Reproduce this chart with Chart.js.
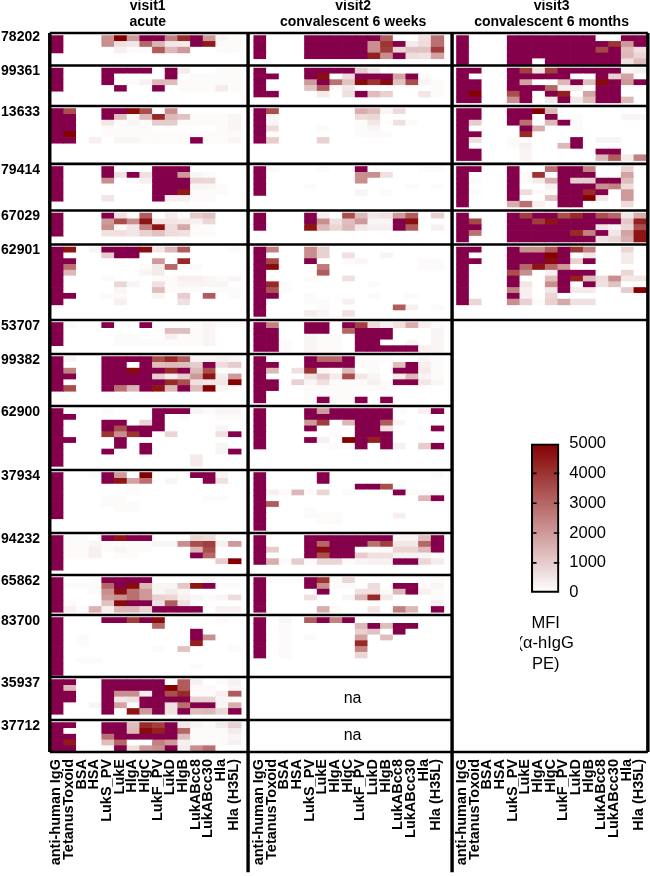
<!DOCTYPE html>
<html>
<head>
<meta charset="utf-8">
<title>MFI heatmap</title>
<script src="https://cdn.jsdelivr.net/npm/chart.js@4"></script>
<style>
    html, body { margin: 0; padding: 0; background: #fff; }
    #wrap { position: relative; width: 650px; height: 876px; overflow: hidden; }
    #wrap canvas { position: absolute; }
</style>
</head>
<body>
<div id="wrap">
    <canvas id="heat" width="650" height="876" style="left:0;top:0"></canvas>
    <canvas id="scale" width="130" height="250" style="left:520px;top:425px"></canvas>
</div>
<script>
const antigens = ['anti-human IgG', 'TetanusToxoid', 'BSA', 'HSA', 'LukS_PV', 'LukE', 'HlgA', 'HlgC', 'LukF_PV', 'LukD', 'HlgB', 'LukABcc8', 'LukABcc30', 'Hla', 'Hla (H35L)'];
const patients = ['78202', '99361', '13633', '79414', '67029', '62901', '53707', '99382', '62900', '37934', '94232', '65862', '83700', '35937', '37712'];
const visitTitles = [['visit1', 'acute'], ['visit2', 'convalescent 6 weeks'], ['visit3', 'convalescent 6 months']];
const scaleTicks = [0, 1000, 2000, 3000, 4000, 5000];
const scaleCaption = ['MFI', '(α-hIgG', 'PE)'];

// MFI in hundreds, 99 = above the top of the colour scale
const v1_78202 = [
    [99,0,0,0,22,50,20,99,99,25,42,99,20,2,1],
    [99,0,0,0,22,6,5,30,15,5,4,99,45,1,1],
    [99,0,0,0,0,3,1,1,32,14,20,0,0,1,1]];
const v1_99361 = [
    [99,0,0,0,99,99,99,99,0,99,4,0,0,1,1],
    [99,0,0,0,99,0,0,0,0,99,0,1,1,1,1],
    [99,0,0,0,99,0,1,3,14,13,1,1,1,1,1],
    [99,0,0,0,0,99,0,0,99,0,1,1,1,4,1]];
const v1_13633 = [
    [99,35,0,0,99,99,48,35,0,22,0,0,0,0,0],
    [99,99,0,0,99,13,2,14,42,14,12,1,1,1,2],
    [99,99,0,0,5,1,2,1,10,10,1,1,1,1,2],
    [99,99,0,0,1,1,1,1,0,0,0,0,0,1,2],
    [99,50,0,0,1,1,1,1,1,1,1,1,1,1,1],
    [99,99,0,3,0,2,2,1,1,1,1,99,1,1,2]];
const v1_79414 = [
    [99,0,0,0,99,0,0,0,99,99,99,0,0,0,0],
    [99,0,0,0,99,6,99,6,99,99,20,2,1,0,0],
    [99,0,0,0,22,0,1,3,99,99,99,8,8,0,0],
    [99,0,0,0,0,0,0,0,99,99,99,2,2,1,0],
    [99,0,0,0,0,0,0,0,99,99,45,1,1,1,0],
    [99,0,0,0,5,0,0,0,99,3,3,1,1,0,0]];
const v1_67029 = [
    [99,0,0,0,99,6,1,32,0,4,1,10,12,0,0],
    [99,0,0,0,20,35,22,46,5,5,4,3,8,0,0],
    [99,0,0,0,22,1,5,25,46,7,17,1,1,0,0],
    [99,0,0,0,6,6,5,9,12,7,6,1,1,0,0]];
const v1_62901 = [
    [99,46,0,2,99,99,99,47,5,14,32,0,0,0,1],
    [99,0,0,0,10,99,99,0,0,0,0,0,0,0,0],
    [99,99,0,0,0,0,0,0,20,0,42,0,0,0,0],
    [99,28,0,0,0,0,0,1,4,30,1,1,0,0,0],
    [99,14,0,0,0,0,0,2,4,0,0,0,0,0,0],
    [99,0,0,0,1,0,0,0,1,1,3,3,2,1,2],
    [99,0,0,0,0,8,2,0,6,1,2,2,2,2,0],
    [99,0,0,0,0,2,0,0,13,1,1,1,0,1,1],
    [99,99,0,0,1,1,0,0,2,0,10,0,32,0,1],
    [99,0,0,0,0,3,0,0,0,0,6,0,0,0,0]];
const v1_53707 = [
    [99,1,0,0,99,0,0,99,0,0,0,1,2,1,1],
    [99,0,0,0,0,0,0,0,0,13,13,1,2,0,0],
    [99,0,0,0,0,1,1,0,0,3,1,1,2,0,0],
    [99,0,0,0,0,1,1,1,1,1,1,1,2,0,0]];
const v1_99382 = [
    [99,2,0,0,99,99,99,99,35,42,32,2,2,3,2],
    [99,0,0,0,99,99,0,99,13,14,13,10,99,7,10],
    [99,25,0,0,99,99,48,99,99,42,99,14,35,1,1],
    [99,99,0,0,99,99,99,99,10,4,10,20,46,4,20],
    [99,0,0,0,99,99,99,99,99,42,35,6,5,5,50],
    [99,35,0,0,99,28,15,99,46,14,99,13,50,2,1]];
const v1_62900 = [
    [99,0,0,0,1,0,0,0,99,99,99,2,1,2,2],
    [99,99,0,0,0,0,0,0,99,0,1,0,0,1,1],
    [99,0,0,0,99,99,0,8,99,0,0,0,0,0,0],
    [99,0,0,0,99,35,99,99,99,0,0,0,0,2,0],
    [99,0,0,0,40,22,40,99,0,8,0,0,0,6,99],
    [99,99,0,0,0,99,0,0,0,0,0,0,0,0,0],
    [99,0,0,0,0,99,0,99,0,0,0,0,0,2,0],
    [99,0,0,0,99,0,0,99,0,0,0,0,0,2,99],
    [99,0,0,0,0,0,0,0,0,0,0,4,0,0,0],
    [99,0,0,0,0,0,0,0,0,0,0,4,0,0,0]];
const v1_37934 = [
    [99,0,0,1,99,20,0,50,0,0,0,99,99,2,0],
    [99,0,0,0,99,46,18,28,0,2,0,0,99,6,0],
    [99,0,0,0,0,0,1,0,0,0,0,0,0,0,0],
    [99,0,0,0,0,0,1,0,0,0,0,0,0,0,0],
    [99,0,0,0,1,1,0,0,0,0,0,0,1,1,0],
    [99,0,0,0,1,1,1,0,0,0,0,0,0,0,0],
    [99,0,0,0,0,1,1,0,0,0,0,0,0,0,0],
    [99,0,0,0,0,0,0,0,0,0,0,0,0,0,0]];
const v1_94232 = [
    [99,1,1,0,99,46,99,99,0,0,0,8,7,1,0],
    [99,1,1,2,1,1,1,1,2,2,22,35,38,3,20],
    [99,1,1,3,1,2,1,1,0,0,0,15,35,0,0],
    [99,1,1,3,0,1,1,0,0,0,0,99,30,0,0],
    [99,0,0,0,0,0,0,0,0,0,0,0,0,10,50],
    [99,0,0,0,0,0,0,0,0,0,0,0,0,0,0]];
const v1_65862 = [
    [99,0,0,1,99,99,99,99,0,0,0,1,2,0,0],
    [99,1,1,1,30,99,48,14,2,2,11,46,99,1,1],
    [99,0,0,1,22,47,28,20,2,4,2,0,0,0,0],
    [99,0,0,0,20,22,28,20,9,8,3,2,1,2,7],
    [99,1,0,0,12,48,99,99,6,32,6,0,0,0,0],
    [99,3,1,15,3,14,14,8,99,99,99,99,0,3,3]];
const v1_83700 = [
    [99,0,0,0,99,99,38,99,48,0,0,0,0,1,0],
    [99,0,0,0,0,0,0,0,30,0,0,0,0,0,0],
    [99,0,0,0,0,0,0,0,0,0,0,99,0,0,0],
    [99,0,1,0,0,0,0,0,0,0,0,99,22,0,0],
    [99,0,1,0,0,0,0,0,0,0,0,44,0,0,0],
    [99,0,0,0,0,0,0,0,1,0,12,0,0,0,1],
    [99,0,0,0,0,0,0,0,0,0,0,0,0,0,0],
    [99,0,1,1,0,0,0,0,0,0,0,0,0,0,0],
    [99,0,0,0,0,0,0,0,0,0,0,1,0,0,0],
    [99,0,0,0,0,0,0,0,0,0,0,0,0,0,0]];
const v1_35937 = [
    [99,99,0,0,99,99,99,99,99,0,32,3,0,1,3],
    [99,14,0,0,99,99,99,99,99,50,32,1,1,0,2],
    [99,99,0,0,99,22,22,4,99,35,42,1,1,3,32],
    [99,99,0,0,99,5,6,99,99,99,99,9,9,2,1],
    [99,0,0,2,99,18,1,99,99,6,28,99,99,2,16],
    [99,0,0,0,99,0,46,20,99,6,99,13,14,8,99]];
const v1_37712 = [
    [99,99,0,0,99,99,13,42,38,99,5,2,1,4,9],
    [99,0,0,0,99,99,14,48,44,99,30,1,1,1,4],
    [99,99,0,0,28,99,99,99,99,99,13,1,1,1,2],
    [99,45,0,0,13,30,0,0,25,20,3,1,1,1,3],
    [99,99,0,0,1,99,6,20,22,99,4,22,28,0,0]];

const v2_78202 = [
    [99,0,0,0,99,99,99,99,99,99,32,0,0,6,28],
    [99,0,0,0,99,99,99,99,99,22,40,99,4,7,28],
    [99,0,0,0,99,99,99,99,99,22,38,8,12,12,38],
    [99,0,0,0,99,99,99,99,99,44,22,99,7,6,18]];
const v2_99361 = [
    [99,0,0,0,99,99,99,99,10,5,0,0,0,0,0],
    [99,99,0,0,99,47,0,7,99,99,99,18,99,1,0],
    [99,0,0,0,20,99,28,12,48,40,48,12,35,2,1],
    [99,0,0,0,12,32,1,5,0,0,0,0,0,0,1],
    [99,99,0,0,0,4,0,6,99,13,9,0,0,5,1]];
const v2_13633 = [
    [99,35,0,0,0,0,0,0,16,13,2,7,0,0,0],
    [99,2,0,0,0,0,0,0,7,8,0,0,0,0,0],
    [99,2,0,0,0,0,0,0,1,5,0,6,1,0,0],
    [99,7,0,0,0,1,0,0,1,2,0,0,0,0,0],
    [99,1,0,0,0,0,0,0,1,1,1,0,0,0,0],
    [99,10,0,0,0,9,0,0,0,0,0,0,0,0,0]];
const v2_79414 = [
    [99,1,0,0,0,1,0,0,99,0,0,0,0,1,1],
    [99,0,0,0,0,0,0,0,22,22,6,0,0,0,0],
    [99,0,0,0,0,0,0,0,22,0,0,0,0,0,0],
    [99,0,0,0,1,0,0,0,0,0,0,0,1,0,1],
    [99,0,0,0,0,0,0,0,2,0,1,0,0,0,0]];
const v2_67029 = [
    [99,0,0,0,99,3,0,35,14,5,6,20,32,0,9],
    [99,0,0,0,99,22,6,13,20,2,2,99,47,0,0],
    [99,0,0,0,46,14,8,14,5,3,3,99,32,0,3]];
const v2_62901 = [
    [99,25,0,0,22,9,0,0,0,0,0,0,0,0,0],
    [99,0,0,0,22,9,0,6,0,0,2,0,0,0,0],
    [99,36,0,0,99,0,0,1,2,0,0,0,0,1,1],
    [99,48,0,0,0,26,0,0,0,0,0,0,0,1,1],
    [99,0,0,0,0,32,0,0,0,0,0,0,0,0,0],
    [99,0,0,0,1,0,0,6,0,0,0,0,0,0,0],
    [99,42,1,0,0,0,0,0,0,1,0,0,0,0,0],
    [99,34,1,0,0,0,0,0,0,0,0,0,0,0,0],
    [99,99,0,0,1,0,0,0,0,1,0,0,1,0,0],
    [99,0,0,0,1,1,0,3,0,0,0,0,0,0,0],
    [99,0,0,0,0,1,0,0,0,0,0,32,3,0,1],
    [99,0,0,0,4,2,0,6,0,0,0,0,0,0,0]];
const v2_53707 = [
    [99,25,0,0,99,99,0,99,38,7,3,6,16,3,1],
    [99,99,0,0,99,99,0,30,99,99,99,0,0,0,2],
    [99,99,0,0,2,1,1,0,99,99,99,0,0,0,2],
    [99,99,1,0,2,1,1,0,99,99,0,0,2,0,2],
    [99,99,1,0,2,1,1,0,99,99,99,99,99,3,2]];
const v2_99382 = [
    [99,0,0,0,99,30,30,99,1,1,1,0,0,2,1],
    [99,99,0,0,99,99,99,99,1,1,0,13,99,3,1],
    [99,14,0,6,40,2,1,14,0,1,0,99,99,4,1],
    [99,0,0,0,6,11,4,35,5,2,0,4,14,2,1],
    [99,99,0,9,2,6,1,1,1,3,1,99,99,5,2],
    [99,99,0,0,1,1,1,1,1,1,1,0,0,0,0],
    [99,0,0,0,1,1,1,1,0,0,0,0,0,0,0],
    [99,0,0,0,1,99,1,1,99,0,99,0,0,0,0]];
const v2_62900 = [
    [99,0,0,0,99,20,99,99,99,99,99,1,0,3,99],
    [99,0,0,0,99,99,99,99,99,99,99,0,0,0,0],
    [99,0,0,0,20,38,0,14,99,99,32,2,0,0,0],
    [99,0,0,0,99,0,0,0,99,99,6,0,0,1,99],
    [99,0,0,0,0,0,1,0,99,99,99,0,0,0,0],
    [99,0,0,0,99,3,0,50,99,44,99,0,0,0,0],
    [99,0,0,0,0,0,1,1,99,0,99,3,0,10,99]];
const v2_37934 = [
    [99,0,0,0,0,99,0,0,0,0,0,0,0,0,1],
    [99,0,0,0,0,99,0,0,0,0,0,0,0,0,0],
    [99,0,0,0,0,0,0,0,99,99,35,1,0,0,0],
    [99,3,1,14,1,8,0,1,0,0,0,99,1,1,1],
    [99,0,0,0,0,0,0,0,0,0,0,0,0,14,99],
    [99,32,0,0,0,0,0,0,0,0,0,0,0,0,0],
    [99,0,0,0,1,0,0,0,0,0,0,0,0,0,0],
    [99,0,0,0,1,1,1,0,0,0,0,3,0,0,0],
    [99,0,0,0,0,1,1,0,0,0,0,0,0,0,0],
    [99,0,0,0,0,0,0,0,0,0,0,0,0,0,0]];
const v2_94232 = [
    [99,0,0,0,99,99,99,99,99,99,99,2,2,13,99],
    [99,0,0,0,99,30,99,99,99,28,38,5,5,30,99],
    [99,10,0,0,99,48,99,99,0,1,1,8,8,14,99],
    [99,0,0,0,99,35,99,99,10,6,6,3,3,2,1],
    [99,16,1,10,1,8,8,1,2,3,3,99,99,8,4]];
const v2_65862 = [
    [99,1,1,1,99,40,1,8,0,0,0,0,0,0,1],
    [99,0,0,0,99,22,1,1,0,7,0,99,99,1,2],
    [99,0,0,0,0,99,0,0,6,6,1,14,99,3,1],
    [99,0,0,0,6,0,0,2,14,42,4,0,0,0,1],
    [99,0,0,0,0,0,0,0,0,0,0,0,0,0,3],
    [99,0,0,0,0,16,1,0,0,5,0,25,14,0,99]];
const v2_83700 = [
    [99,0,2,0,32,99,25,99,0,0,0,0,0,0,0],
    [99,0,1,0,0,0,0,0,14,99,13,99,99,0,0],
    [99,0,1,0,0,0,0,0,9,12,0,99,0,0,0],
    [99,0,1,0,1,0,0,0,18,0,13,0,0,0,0],
    [99,0,1,0,0,0,0,0,42,0,0,0,0,0,0],
    [99,0,1,0,0,0,0,0,24,0,0,0,0,0,0],
    [99,0,1,0,0,0,0,0,8,0,0,0,0,0,0]];

const v3_78202 = [
    [99,0,0,0,99,99,99,99,99,99,99,0,0,99,99],
    [99,0,0,0,99,99,99,99,99,99,99,99,40,20,99],
    [99,0,0,0,99,99,99,99,99,99,99,36,99,13,6],
    [99,0,0,0,99,99,99,99,99,99,99,99,99,14,8],
    [99,0,0,0,99,99,0,99,99,99,99,99,99,6,13]];
const v3_99361 = [
    [99,99,0,0,99,38,6,38,99,99,99,99,99,2,3],
    [99,0,0,0,99,99,99,99,99,0,0,99,9,18,0],
    [99,99,0,0,99,18,0,0,14,99,13,48,99,20,99],
    [99,99,0,0,99,99,99,30,3,3,0,99,99,0,0],
    [99,50,0,0,35,99,0,99,44,0,18,99,99,0,0],
    [99,99,0,0,22,99,0,4,99,5,13,99,99,14,0]];
const v3_13633 = [
    [99,99,0,0,99,99,50,14,0,0,0,0,0,0,0],
    [99,99,0,0,99,99,0,99,0,1,0,0,0,2,2],
    [99,10,0,0,99,28,0,14,99,1,0,0,0,0,0],
    [99,0,0,0,0,99,16,0,0,1,0,0,0,0,0],
    [99,99,0,0,0,42,0,0,0,0,0,0,0,0,0],
    [99,6,0,0,1,1,0,0,0,99,0,2,2,0,0],
    [99,0,0,0,1,3,0,0,14,99,0,0,0,0,0],
    [99,99,0,0,0,2,0,0,0,0,0,99,99,0,0],
    [99,99,0,0,0,2,0,0,0,0,0,14,32,4,25]];
const v3_79414 = [
    [99,99,0,0,99,0,0,28,99,99,25,0,0,9,0],
    [99,0,0,0,99,1,40,0,99,99,99,0,0,18,0],
    [99,1,0,0,99,1,4,16,99,10,10,99,99,13,0],
    [99,0,0,0,99,0,0,3,99,99,99,22,25,7,0],
    [99,1,0,0,99,7,1,1,99,99,42,99,0,20,0],
    [99,0,0,0,99,0,0,12,99,99,50,5,0,20,0],
    [99,0,0,0,16,28,3,0,99,99,0,0,0,7,0]];
const v3_67029 = [
    [99,0,0,0,99,38,99,99,35,42,99,35,30,5,16],
    [99,36,0,0,99,99,38,46,99,99,99,99,99,11,44],
    [99,99,0,0,99,99,99,99,99,99,99,5,2,8,35],
    [99,28,0,0,99,99,99,99,99,42,25,99,5,18,46],
    [99,0,0,0,99,99,99,99,99,99,99,6,8,16,46]];
const v3_62901 = [
    [99,99,0,0,99,22,22,32,99,40,25,0,0,8,0],
    [99,0,0,0,99,99,99,50,99,0,5,0,0,4,0],
    [99,99,0,0,99,99,99,48,99,9,99,0,0,4,0],
    [99,0,0,0,99,30,46,30,20,0,0,0,0,0,0],
    [99,0,0,0,35,22,0,3,99,99,99,0,0,8,0],
    [99,0,0,0,99,0,0,13,99,44,14,7,22,5,5],
    [99,0,0,0,99,5,0,22,99,0,99,6,12,0,0],
    [99,0,0,0,25,3,0,5,99,4,4,0,0,10,50],
    [99,0,0,0,99,3,0,8,0,0,0,0,0,0,0],
    [99,8,0,0,22,9,1,9,17,6,6,0,0,0,0]];

const visit1 = [v1_78202, v1_99361, v1_13633, v1_79414, v1_67029, v1_62901, v1_53707, v1_99382, v1_62900, v1_37934, v1_94232, v1_65862, v1_83700, v1_35937, v1_37712];
const visit2 = [v2_78202, v2_99361, v2_13633, v2_79414, v2_67029, v2_62901, v2_53707, v2_99382, v2_62900, v2_37934, v2_94232, v2_65862, v2_83700, null, null];
const visit3 = [v3_78202, v3_99361, v3_13633, v3_79414, v3_67029, v3_62901];

// layout, in column / row units of the scales
const rowSlots = [5, 6, 9, 7, 5, 12, 5, 8, 10, 10, 6, 6, 10, 6, 5];
const blockGaps = [0.62, 1, 1.03, 1.05, 0.88, 1.06, 0.89, 0.99, 1.07, 0.9, 1.27, 0.92, 0.73, 1.44, 0.54];
const titleCols = [7.63, 23.84, 39.5];
const panelStep = 16;
const xLeft = -0.1, sep1 = 15.55, sep2 = 31.65, xRight = 47.1;

const blockEdges = [0];
rowSlots.forEach((n, i) => blockEdges.push(blockEdges[i] + n + blockGaps[i]));
const yMax = blockEdges[blockEdges.length - 1];
const yTail = yMax + 20.8;

function mfiColor(h) {
    if (h > 50) return '#85004b';
    const t = h / 50;
    const c = (a, b) => Math.round(a + (b - a) * t);
    return `rgb(${c(255, 132)},${c(255, 0)},${c(255, 0)})`;
}

const cells = [];
[visit1, visit2, visit3].forEach((blocks, p) => {
    blocks.forEach((rows, b) => {
        if (!rows) return;
        rows.forEach((row, r) => {
            row.forEach((v, c) => {
                const top = blockEdges[b] + 0.45 + r;
                cells.push({ x: p * panelStep + c + 0.5, y: [top, top + 1], v: v });
            });
        });
    });
});

const hLines = [];
blockEdges.forEach((y, i) => {
    hLines.push({ x: xLeft, y: y });
    hLines.push({ x: i <= 6 || i === 15 ? xRight : sep2, y: y });
    hLines.push({ x: xLeft, y: null });
});
const vLines = [
    { x: xLeft, y: 0 }, { x: xLeft, y: yMax }, { x: xLeft, y: null },
    { x: sep1, y: 0 }, { x: sep1, y: yTail }, { x: sep1, y: null },
    { x: sep2, y: 0 }, { x: sep2, y: yTail }, { x: sep2, y: null },
    { x: xRight, y: 0 }, { x: xRight, y: yMax }
];

const xTicks = [];
[0, 1, 2].forEach(p => antigens.forEach((a, c) => xTicks.push(p * panelStep + c + 0.42)));

const noMargins = s => { s.paddingLeft = 0; s.paddingRight = 0; s.paddingTop = 0; s.paddingBottom = 0; };

const naLabels = {
    id: 'naLabels',
    afterDatasetsDraw(chart) {
        const { ctx, scales } = chart;
        ctx.save();
        ctx.font = '16px "Liberation Sans"';
        ctx.fillStyle = '#000';
        ctx.textAlign = 'center';
        ctx.textBaseline = 'middle';
        visit2.forEach((rows, b) => {
            if (rows) return;
            ctx.fillText('na', scales.x.getPixelForValue(23.8), scales.y.getPixelForValue((blockEdges[b] + blockEdges[b + 1]) / 2));
        });
        ctx.restore();
    }
};

new Chart(document.getElementById('heat'), {
    type: 'bar',
    data: {
        datasets: [
            { type: 'line', data: hLines, borderColor: '#000', borderWidth: 2.6, pointRadius: 0, order: 0, clip: false },
            { type: 'line', data: vLines, borderColor: '#000', borderWidth: 3.4, pointRadius: 0, order: 0, clip: false },
            {
                data: cells,
                order: 1,
                barThickness: 12.67,
                borderWidth: 0,
                backgroundColor: ctx => mfiColor(ctx.raw ? ctx.raw.v : 0)
            }
        ]
    },
    options: {
        responsive: false,
        animation: false,
        layout: { padding: 0 },
        plugins: { legend: { display: false }, tooltip: { enabled: false } },
        scales: {
            x: {
                type: 'linear', offset: false, bounds: 'data', min: -0.24, max: 47.27,
                grid: { display: false, drawTicks: false }, border: { display: false },
                afterBuildTicks: s => { s.ticks = xTicks.map(v => ({ value: v })); },
                afterFit: s => { s.height = 124; noMargins(s); },
                ticks: {
                    autoSkip: false, minRotation: 90, maxRotation: 90, padding: 7, color: '#000',
                    font: { family: '"Liberation Sans"', size: 14.5, weight: 'bold' },
                    callback: (v, i) => antigens[i % antigens.length]
                }
            },
            xTop: {
                type: 'linear', axis: 'x', position: 'top', offset: false, bounds: 'data', min: -0.24, max: 47.27,
                grid: { display: false, drawTicks: false }, border: { display: false },
                afterBuildTicks: s => { s.ticks = titleCols.map(v => ({ value: v })); },
                afterFit: s => { s.height = 33; noMargins(s); },
                ticks: {
                    autoSkip: false, maxRotation: 0, padding: 3, color: '#000',
                    font: { family: '"Liberation Sans"', size: 14, weight: 'bold', lineHeight: 1.15 },
                    callback: (v, i) => visitTitles[i]
                }
            },
            y: {
                type: 'linear', reverse: true, min: 0, max: yMax, bounds: 'data',
                grid: { display: false, drawTicks: false }, border: { display: false },
                afterBuildTicks: s => { s.ticks = patients.map((p, i) => ({ value: blockEdges[i] + (i ? 1 : 0.7) })); },
                afterFit: s => { s.width = 48; noMargins(s); },
                ticks: {
                    autoSkip: false, padding: 8, color: '#000',
                    font: { family: '"Liberation Sans"', size: 14, weight: 'bold' },
                    callback: (v, i) => patients[i]
                }
            }
        }
    },
    plugins: [naLabels]
});

const innerMarks = {
    id: 'innerMarks',
    afterDatasetsDraw(chart) {
        const { ctx, chartArea, scales } = chart;
        ctx.save();
        ctx.strokeStyle = '#000';
        ctx.lineWidth = 1.6;
        scaleTicks.slice(1, -1).forEach(v => {
            const y = scales.y.getPixelForValue(v);
            ctx.beginPath();
            ctx.moveTo(chartArea.left, y);
            ctx.lineTo(chartArea.left + 5.5, y);
            ctx.moveTo(chartArea.right - 5.5, y);
            ctx.lineTo(chartArea.right, y);
            ctx.stroke();
        });
        // caption is wider than the bar, an axis title would get squeezed to it
        ctx.fillStyle = '#000';
        ctx.font = '16.5px "Liberation Sans"';
        ctx.textAlign = 'center';
        ctx.textBaseline = 'middle';
        scaleCaption.forEach((t, i) => {
            ctx.fillText(t, (chartArea.left + chartArea.right) / 2 + 0.5, chartArea.bottom + 30.5 + i * 20.7);
        });
        ctx.restore();
    }
};

function scaleGradient(ctx) {
    const { chart } = ctx;
    if (!chart.chartArea) return '#fff';
    const g = chart.ctx.createLinearGradient(0, chart.scales.y.getPixelForValue(0), 0, chart.scales.y.getPixelForValue(5000));
    g.addColorStop(0, mfiColor(0));
    g.addColorStop(1, mfiColor(50));
    return g;
}

new Chart(document.getElementById('scale'), {
    type: 'bar',
    data: {
        labels: ['MFI'],
        datasets: [{
            data: [[0, 5000]],
            backgroundColor: scaleGradient,
            borderColor: '#000', borderWidth: 2.4, borderSkipped: false,
            barPercentage: 1, categoryPercentage: 1
        }]
    },
    options: {
        responsive: false,
        animation: false,
        layout: { padding: { left: 11, top: 18.5 } },
        plugins: { legend: { display: false }, tooltip: { enabled: false } },
        scales: {
            x: {
                grid: { display: false, drawTicks: false }, border: { display: false },
                ticks: { display: false },
                afterFit: s => { s.height = 82.3; noMargins(s); }
            },
            y: {
                position: 'right', min: 0, max: 5000,
                grid: { display: false, drawTicks: false }, border: { display: false },
                afterBuildTicks: s => { s.ticks = scaleTicks.map(v => ({ value: v })); },
                afterFit: s => { s.width = 90.7; noMargins(s); },
                ticks: {
                    padding: 10, color: '#000',
                    font: { family: '"Liberation Sans"', size: 16.5 },
                    callback: v => String(v)
                }
            }
        }
    },
    plugins: [innerMarks]
});
</script>
</body>
</html>
